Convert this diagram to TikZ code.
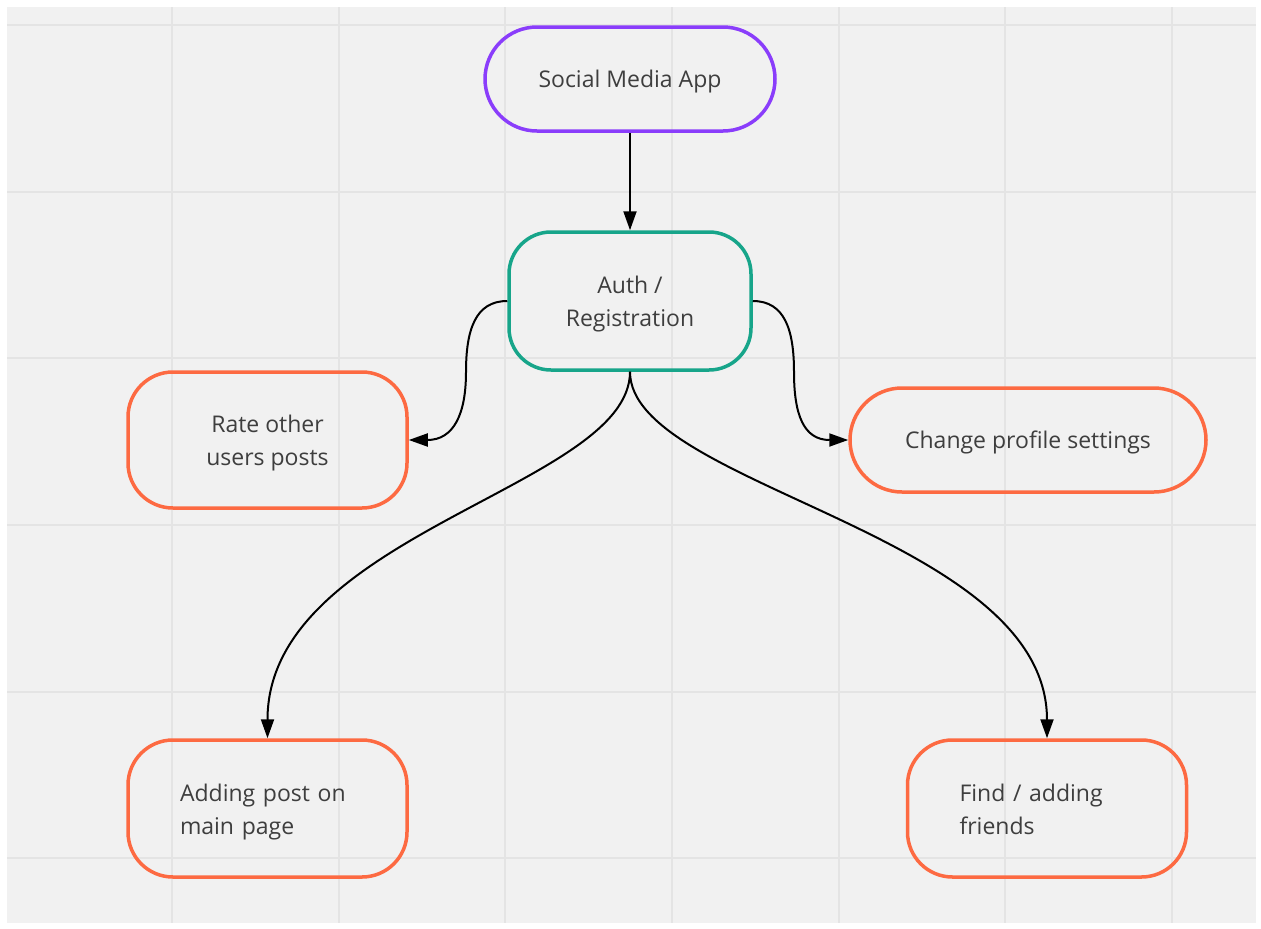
\documentclass[tikz,border=0pt]{standalone}
\usepackage{fontspec}
\setmainfont{Open Sans}
\usetikzlibrary{arrows.meta}
\definecolor{bgc}{HTML}{F1F1F1}
\definecolor{gridc}{HTML}{E4E4E4}
\definecolor{purp}{HTML}{8A3DFB}
\definecolor{teal}{HTML}{17A58A}
\definecolor{orng}{HTML}{FD6A42}
\definecolor{txt}{HTML}{3E3E3E}
\tikzset{
  box/.style={draw, line width=3.5pt, text=txt, font=\fontsize{23pt}{33pt}\selectfont, inner sep=0pt, text depth=0pt},
  leftbox/.style={box, text depth=31pt, text width=175pt, align=left},
  conn/.style={draw=black, line width=2pt, -{Triangle[length=19pt,width=13pt]}},
}
\begin{document}
\begin{tikzpicture}[x=1pt,y=-1pt]
\useasboundingbox (0,0) rectangle (1261,929);
\fill[white] (0,0) rectangle (1261,929);
\fill[bgc] (7,7) rectangle (1256,923);
\foreach \gx in {172,338.7,505.3,672,838.7,1005.3,1172}
  \draw[gridc, line width=2pt] (\gx,7) -- (\gx,923);
\foreach \gy in {25,191.7,358.3,525,691.7,858.3}
  \draw[gridc, line width=2pt] (7,\gy) -- (1256,\gy);

\node[box, draw=purp, rounded corners=52pt, minimum width=290pt, minimum height=104pt] (soc) at (630,79) {Social Media App};
\node[box, draw=teal, rounded corners=42pt, minimum width=242pt, minimum height=138pt, align=center] (auth) at (630,301) {Auth /\\Registration};
\node[box, draw=orng, rounded corners=45pt, minimum width=279pt, minimum height=136pt, align=center] (rate) at (267.5,440) {Rate other\\users posts};
\node[box, draw=orng, rounded corners=52pt, minimum width=356pt, minimum height=104pt] (prof) at (1028,440) {Change profile settings};
\node[leftbox, draw=orng, rounded corners=45pt, minimum width=279pt, minimum height=137pt] (post) at (267.5,808.5) {Adding post on\\main page};
\node[leftbox, draw=orng, rounded corners=45pt, minimum width=279pt, minimum height=137pt] (find) at (1047,808.5) {Find / adding\\friends};

\coordinate (lmid) at (466,372);
\coordinate (rmid) at (794,372);

\draw[conn] (soc.south) -- (auth.north);
\draw[conn] (auth.west) .. controls +(-32,0) and +(0,-42) .. (lmid) .. controls +(0,42) and +(45,0) .. (rate.east);
\draw[conn] (auth.east) .. controls +(32,0) and +(0,-42) .. (rmid) .. controls +(0,42) and +(-45,0) .. (prof.west);
\draw[conn] (auth.south) .. controls +(0,115) and +(0,-205) .. (post.north);
\draw[conn] (auth.south) .. controls +(0,115) and +(0,-205) .. (find.north);
\end{tikzpicture}
\end{document}
